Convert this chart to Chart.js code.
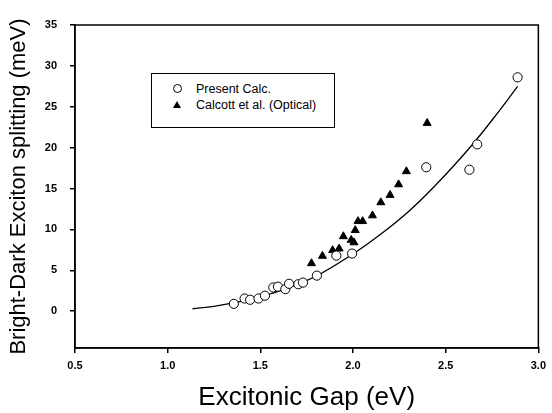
<!DOCTYPE html>
<html>
<head>
<meta charset="utf-8">
<script src="https://cdn.jsdelivr.net/npm/chart.js@4"></script>
<style>
  html, body { margin: 0; padding: 0; background: #fff; }
  #wrap { position: relative; width: 552px; height: 413px; }
  #legend {
    position: absolute; left: 151px; top: 73px; width: 182px; height: 53px;
    border: 1.5px solid #000; background: #fff;
    font: 12.5px "Liberation Sans", Arial, sans-serif; color: #000;
  }
  .row { position: absolute; left: 0; height: 15px; line-height: 15px; }
  .sym { position: absolute; left: 19px; width: 12px; text-align: center; }
  .txt { position: absolute; left: 44px; white-space: nowrap; }
  .circ { display: inline-block; width: 7px; height: 7px; border: 1.2px solid #000; border-radius: 50%; vertical-align: middle; margin-top: -2px; }
  .tri { display: inline-block; width: 0; height: 0; border-left: 4px solid transparent; border-right: 4px solid transparent; border-bottom: 7px solid #000; vertical-align: middle; margin-top: -3px; }
</style>
</head>
<body>
<div id="wrap">
  <canvas id="chart" width="552" height="413"></canvas>
  <div id="legend">
    <div class="row" style="top:8px"><span class="sym"><span class="circ"></span></span><span class="txt">Present Calc.</span></div>
    <div class="row" style="top:24px"><span class="sym"><span class="tri"></span></span><span class="txt">Calcott et al. (Optical)</span></div>
  </div>
</div>
<script>
// Present Calc. (open circles)
const calcX = [1.357, 1.415, 1.445, 1.49, 1.525, 1.57, 1.595, 1.635, 1.655, 1.705, 1.73, 1.805, 1.91, 1.995, 2.395, 2.628, 2.67, 2.888];
const calcY = [0.9, 1.55, 1.4, 1.55, 1.9, 2.9, 3.0, 2.7, 3.35, 3.3, 3.5, 4.35, 6.8, 7.05, 17.6, 17.3, 20.4, 28.6];

// Calcott et al. (Optical) (filled triangles)
const optX = [1.776, 1.835, 1.89, 1.925, 1.948, 1.99, 2.005, 2.012, 2.027, 2.052, 2.105, 2.15, 2.2, 2.246, 2.288, 2.4];
const optY = [5.85, 6.75, 7.45, 7.65, 9.15, 8.7, 8.4, 9.9, 11.0, 11.0, 11.7, 13.3, 14.2, 15.5, 17.1, 23.0];

// fitted curve
const fitX = [1.134, 1.25, 1.34, 1.5, 1.65, 1.81, 2.0, 2.14, 2.3, 2.445, 2.626, 2.789, 2.888];
const fitY = [0.3, 0.6, 0.95, 1.75, 2.85, 4.4, 7.0, 9.25, 12.2, 15.4, 19.9, 24.5, 27.5];

const xTicks = [0.5, 1.0, 1.5, 2.0, 2.5, 3.0];
const yTicks = [0, 5, 10, 15, 20, 25, 30, 35];

const pts = (xs, ys) => xs.map((x, i) => ({ x: x, y: ys[i] }));

// box round the plot area (top and right sides)
const frame = {
  id: 'frame',
  afterDraw(chart) {
    const a = chart.chartArea;
    const ctx = chart.ctx;
    ctx.save();
    ctx.strokeStyle = '#000';
    ctx.lineWidth = 1.5;
    ctx.strokeRect(a.left, a.top, a.right - a.left, a.bottom - a.top);
    ctx.restore();
  }
};

const fam = '"Liberation Sans", Arial, sans-serif';
const tickFont = { family: fam, size: 11, weight: 'bold' };

new Chart(document.getElementById('chart').getContext('2d'), {
  type: 'scatter',
  data: {
    datasets: [
      {
        label: 'fit',
        data: pts(fitX, fitY),
        showLine: true,
        borderColor: '#000',
        borderWidth: 1.3,
        pointRadius: 0,
        tension: 0.4,
        order: 3
      },
      {
        label: 'Present Calc.',
        data: pts(calcX, calcY),
        pointStyle: 'circle',
        pointRadius: 4.6,
        backgroundColor: '#fff',
        borderColor: '#000',
        borderWidth: 1,
        order: 1
      },
      {
        label: 'Calcott et al. (Optical)',
        data: pts(optX, optY),
        pointStyle: 'triangle',
        pointRadius: 4.6,
        backgroundColor: '#000',
        borderColor: '#000',
        borderWidth: 1,
        order: 2
      }
    ]
  },
  options: {
    responsive: false,
    animation: false,
    events: [],
    layout: { padding: { top: 25, right: 13, left: 0, bottom: 0 } },
    plugins: { legend: { display: false }, tooltip: { enabled: false } },
    scales: {
      x: {
        type: 'linear',
        min: 0.5,
        max: 3.0,
        afterFit: s => { s.height = 65; },
        afterBuildTicks: s => { s.ticks = xTicks.map(v => ({ value: v })); },
        grid: { drawOnChartArea: false, drawTicks: true, tickLength: 5, color: '#000', lineWidth: 1.5 },
        border: { color: '#000', width: 1.5 },
        ticks: { color: '#000', font: tickFont, padding: 6, maxRotation: 0, callback: v => Number(v).toFixed(1) },
        title: { display: true, text: 'Excitonic Gap (eV)', color: '#000', font: { family: fam, size: 26 }, padding: { top: 0, bottom: 0 } }
      },
      y: {
        type: 'linear',
        min: -4.5,
        max: 35,
        afterFit: s => { s.width = 75; },
        afterBuildTicks: s => { s.ticks = yTicks.map(v => ({ value: v })); },
        grid: { drawOnChartArea: false, drawTicks: true, tickLength: 5, color: '#000', lineWidth: 1.5 },
        border: { color: '#000', width: 1.5 },
        ticks: { color: '#000', font: tickFont, padding: 13 },
        title: { display: true, text: 'Bright-Dark Exciton splitting (meV)', color: '#000', font: { family: fam, size: 22 }, padding: { top: 6, bottom: 0 } }
      }
    }
  },
  plugins: [frame]
});
</script>
</body>
</html>
